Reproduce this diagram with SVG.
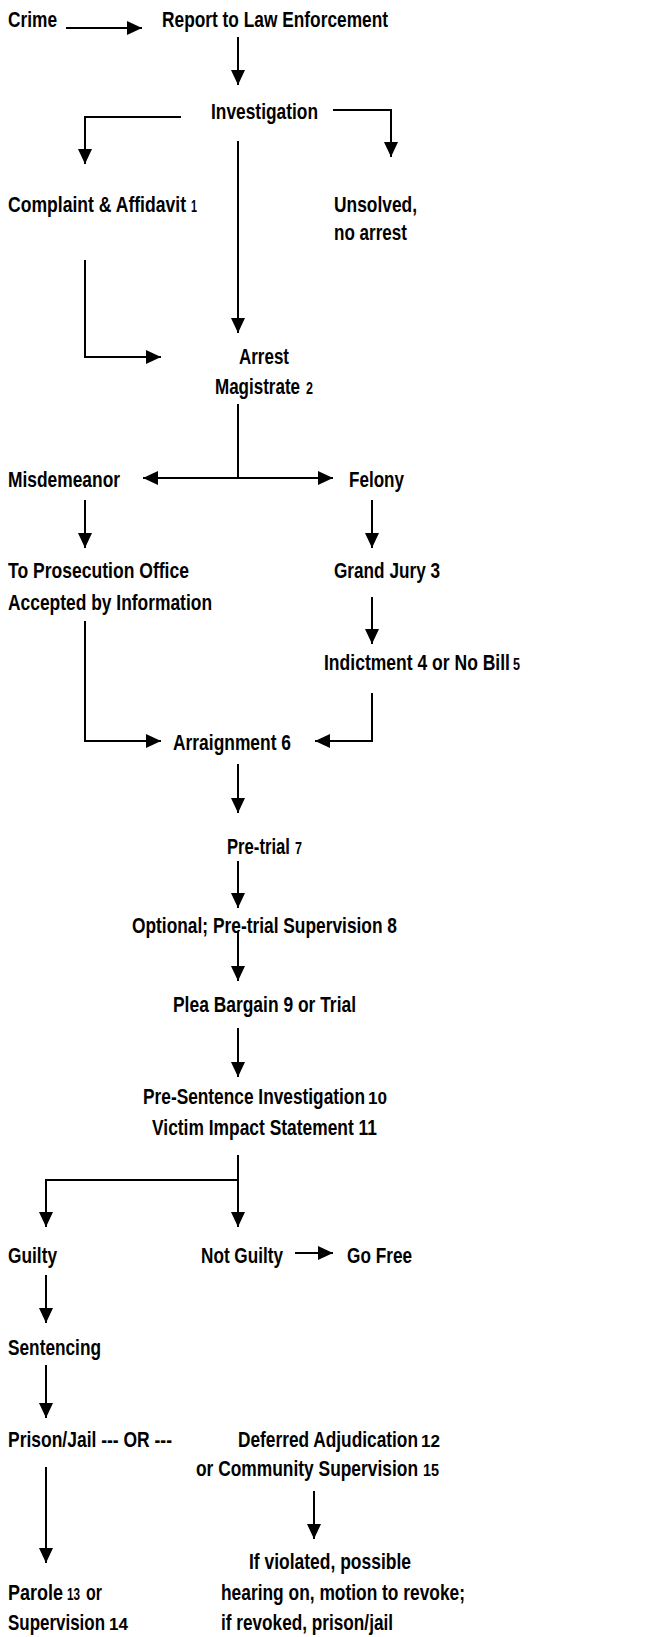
<svg xmlns="http://www.w3.org/2000/svg" width="655" height="1637" viewBox="0 0 655 1637">
<style>
text{font-family:"Liberation Sans Narrow","Arial Narrow","Liberation Sans",sans-serif;font-weight:bold;font-size:22px;fill:#000}
.s{font-size:16px}
.c path,.c line{stroke:#000;stroke-width:2;fill:none}
</style>
<defs>
<marker id="a" markerUnits="userSpaceOnUse" markerWidth="16" markerHeight="16" refX="15" refY="7" orient="auto"><path d="M0,0L15,7L0,14Z" fill="#000"/></marker>
</defs>
<rect width="655" height="1637" fill="#fff"/>
<g class="c">
<line x1="66" y1="28" x2="142" y2="28" marker-end="url(#a)"/>
<line x1="238" y1="37" x2="238" y2="85" marker-end="url(#a)"/>
<path d="M181,117H85V164" marker-end="url(#a)"/>
<path d="M333,110H391V157" marker-end="url(#a)"/>
<line x1="238" y1="141" x2="238" y2="333" marker-end="url(#a)"/>
<path d="M85,260V357H161" marker-end="url(#a)"/>
<line x1="238" y1="404" x2="238" y2="478"/>
<line x1="238" y1="478" x2="143" y2="478" marker-end="url(#a)"/>
<line x1="238" y1="478" x2="333" y2="478" marker-end="url(#a)"/>
<line x1="85" y1="500" x2="85" y2="548" marker-end="url(#a)"/>
<line x1="372" y1="500" x2="372" y2="548" marker-end="url(#a)"/>
<line x1="372" y1="597" x2="372" y2="644" marker-end="url(#a)"/>
<path d="M85,621V741H161" marker-end="url(#a)"/>
<path d="M372,693V741H315" marker-end="url(#a)"/>
<line x1="238" y1="764" x2="238" y2="813" marker-end="url(#a)"/>
<line x1="238" y1="861" x2="238" y2="908" marker-end="url(#a)"/>
<line x1="238" y1="932" x2="238" y2="981" marker-end="url(#a)"/>
<line x1="238" y1="1028" x2="238" y2="1077" marker-end="url(#a)"/>
<line x1="238" y1="1155" x2="238" y2="1227" marker-end="url(#a)"/>
<path d="M238,1180H46V1227" marker-end="url(#a)"/>
<line x1="295" y1="1253" x2="333" y2="1253" marker-end="url(#a)"/>
<line x1="46" y1="1275" x2="46" y2="1323" marker-end="url(#a)"/>
<line x1="46" y1="1365" x2="46" y2="1418" marker-end="url(#a)"/>
<line x1="46" y1="1467" x2="46" y2="1563" marker-end="url(#a)"/>
<line x1="314" y1="1491" x2="314" y2="1539" marker-end="url(#a)"/>
</g>
<g id="crime"><text transform="translate(8,27) scale(0.82,1)" textLength="59.8" lengthAdjust="spacingAndGlyphs">Crime</text></g>
<g id="report"><text transform="translate(162,27) scale(0.82,1)" textLength="275.6" lengthAdjust="spacingAndGlyphs">Report to Law Enforcement</text></g>
<g id="investigation"><text transform="translate(211,119) scale(0.82,1)" textLength="130.5" lengthAdjust="spacingAndGlyphs">Investigation</text></g>
<g id="complaint"><text transform="translate(8,212) scale(0.82,1)" textLength="217.1" lengthAdjust="spacingAndGlyphs">Complaint &amp; Affidavit</text><text class="s" transform="translate(191,212) scale(0.82,1)" textLength="7.3" lengthAdjust="spacingAndGlyphs">1</text></g>
<g id="unsolved"><text transform="translate(334,212) scale(0.82,1)" textLength="101.2" lengthAdjust="spacingAndGlyphs">Unsolved,</text><text transform="translate(334,240) scale(0.82,1)" textLength="89" lengthAdjust="spacingAndGlyphs">no arrest</text></g>
<g id="arrest"><text transform="translate(239,364) scale(0.82,1)" textLength="61" lengthAdjust="spacingAndGlyphs">Arrest</text><text transform="translate(215,394) scale(0.82,1)" textLength="103.7" lengthAdjust="spacingAndGlyphs">Magistrate</text><text class="s" transform="translate(306,394) scale(0.82,1)" textLength="8.5" lengthAdjust="spacingAndGlyphs">2</text></g>
<g id="misdemeanor"><text transform="translate(8,487) scale(0.82,1)" textLength="136.6" lengthAdjust="spacingAndGlyphs">Misdemeanor</text></g>
<g id="felony"><text transform="translate(349,487) scale(0.82,1)" textLength="67.1" lengthAdjust="spacingAndGlyphs">Felony</text></g>
<g id="prosecution"><text transform="translate(8,578) scale(0.82,1)" textLength="220.7" lengthAdjust="spacingAndGlyphs">To Prosecution Office</text><text transform="translate(8,610) scale(0.82,1)" textLength="248.8" lengthAdjust="spacingAndGlyphs">Accepted by Information</text></g>
<g id="grandjury"><text transform="translate(334,578) scale(0.82,1)" textLength="129.3" lengthAdjust="spacingAndGlyphs">Grand Jury 3</text></g>
<g id="indictment"><text transform="translate(324,670) scale(0.82,1)" textLength="226.8" lengthAdjust="spacingAndGlyphs">Indictment 4 or No Bill</text><text class="s" transform="translate(513,670) scale(0.82,1)" textLength="8.5" lengthAdjust="spacingAndGlyphs">5</text></g>
<g id="arraignment"><text transform="translate(173,750) scale(0.82,1)" textLength="143.9" lengthAdjust="spacingAndGlyphs">Arraignment 6</text></g>
<g id="pretrial"><text transform="translate(227,854) scale(0.82,1)" textLength="76.8" lengthAdjust="spacingAndGlyphs">Pre-trial</text><text class="s" transform="translate(295,854) scale(0.82,1)" textLength="8.5" lengthAdjust="spacingAndGlyphs">7</text></g>
<g id="optional"><text transform="translate(132,933) scale(0.82,1)" textLength="323.2" lengthAdjust="spacingAndGlyphs">Optional; Pre-trial Supervision 8</text></g>
<g id="plea"><text transform="translate(173,1012) scale(0.82,1)" textLength="223.2" lengthAdjust="spacingAndGlyphs">Plea Bargain 9 or Trial</text></g>
<g id="presentence"><text transform="translate(143,1104) scale(0.76,1)" textLength="292.1" lengthAdjust="spacingAndGlyphs">Pre-Sentence Investigation</text><text class="s" transform="translate(368,1104) scale(0.82,1)" textLength="23.2" lengthAdjust="spacingAndGlyphs">10</text><text transform="translate(152,1135) scale(0.82,1)" textLength="274.4" lengthAdjust="spacingAndGlyphs">Victim Impact Statement 11</text></g>
<g id="guilty"><text transform="translate(8,1263) scale(0.82,1)" textLength="59.8" lengthAdjust="spacingAndGlyphs">Guilty</text></g>
<g id="notguilty"><text transform="translate(201,1263) scale(0.82,1)" textLength="100" lengthAdjust="spacingAndGlyphs">Not Guilty</text></g>
<g id="gofree"><text transform="translate(347,1263) scale(0.82,1)" textLength="79.3" lengthAdjust="spacingAndGlyphs">Go Free</text></g>
<g id="sentencing"><text transform="translate(8,1355) scale(0.82,1)" textLength="113.4" lengthAdjust="spacingAndGlyphs">Sentencing</text></g>
<g id="prison"><text transform="translate(8,1447) scale(0.82,1)" textLength="200" lengthAdjust="spacingAndGlyphs">Prison/Jail --- OR ---</text></g>
<g id="deferred"><text transform="translate(238,1447) scale(0.76,1)" textLength="236.8" lengthAdjust="spacingAndGlyphs">Deferred Adjudication</text><text class="s" transform="translate(421,1447) scale(0.82,1)" textLength="23.2" lengthAdjust="spacingAndGlyphs">12</text><text transform="translate(196,1476) scale(0.76,1)" textLength="292.1" lengthAdjust="spacingAndGlyphs">or Community Supervision</text><text class="s" transform="translate(423,1476) scale(0.82,1)" textLength="19.5" lengthAdjust="spacingAndGlyphs">15</text></g>
<g id="parole"><text transform="translate(8,1600) scale(0.82,1)" textLength="67.1" lengthAdjust="spacingAndGlyphs">Parole</text><text class="s" transform="translate(67,1600) scale(0.82,1)" textLength="15.9" lengthAdjust="spacingAndGlyphs">13</text><text transform="translate(86,1600) scale(0.82,1)" textLength="19.5" lengthAdjust="spacingAndGlyphs">or</text><text transform="translate(8,1630) scale(0.82,1)" textLength="118.3" lengthAdjust="spacingAndGlyphs">Supervision</text><text class="s" transform="translate(109,1630) scale(0.82,1)" textLength="23.2" lengthAdjust="spacingAndGlyphs">14</text></g>
<g id="violated"><text transform="translate(249,1569) scale(0.82,1)" textLength="197.6" lengthAdjust="spacingAndGlyphs">If violated, possible</text><text transform="translate(221,1600) scale(0.82,1)" textLength="297.6" lengthAdjust="spacingAndGlyphs">hearing on, motion to revoke;</text><text transform="translate(221,1630) scale(0.82,1)" textLength="209.8" lengthAdjust="spacingAndGlyphs">if revoked, prison/jail</text></g>
</svg>
